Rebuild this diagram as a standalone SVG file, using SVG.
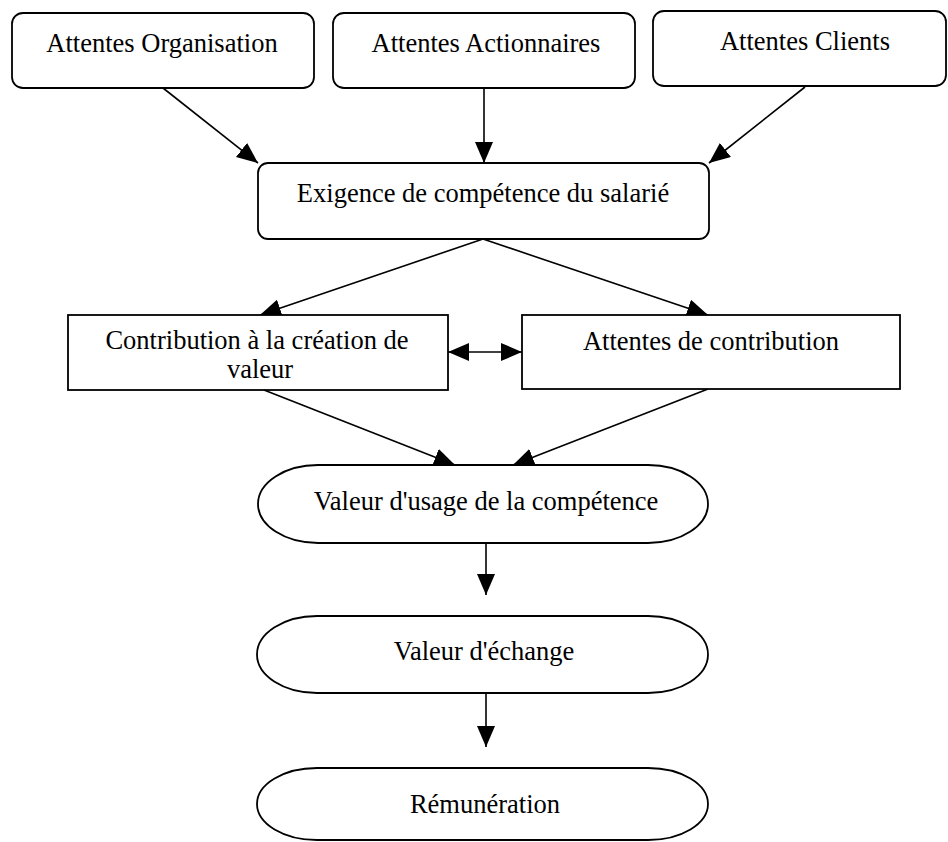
<svg xmlns="http://www.w3.org/2000/svg" width="948" height="842" viewBox="0 0 948 842">
  <style>
    .box { fill: #ffffff; stroke: #000000; stroke-width: 1.8; }
    .lbl { font-family: "Liberation Serif", "Times New Roman", serif; font-size: 26.5px; fill: #000000; text-anchor: middle; }
    .edge { fill: none; stroke: #000000; stroke-width: 1.6; }
  </style>
  <defs>
    <marker id="head" markerUnits="userSpaceOnUse" markerWidth="24" markerHeight="20" refX="21" refY="9" orient="auto-start-reverse">
      <path d="M0,0 L21,9 L0,18 Z" fill="#000000"/>
    </marker>
  </defs>

  <rect width="948" height="842" fill="#ffffff"/>

  <!-- connectors -->
  <g id="connectors">
    <line class="edge" x1="163" y1="88" x2="258" y2="163" marker-end="url(#head)"/>
    <line class="edge" x1="484" y1="88" x2="484" y2="163" marker-end="url(#head)"/>
    <line class="edge" x1="805" y1="87" x2="709" y2="163" marker-end="url(#head)"/>
    <line class="edge" x1="483" y1="239" x2="260" y2="315" marker-end="url(#head)"/>
    <line class="edge" x1="483" y1="239" x2="708" y2="315" marker-end="url(#head)"/>
    <line class="edge" x1="448" y1="352" x2="522" y2="352" marker-start="url(#head)" marker-end="url(#head)"/>
    <line class="edge" x1="264" y1="390" x2="455" y2="465" marker-end="url(#head)"/>
    <line class="edge" x1="708" y1="389" x2="513" y2="465" marker-end="url(#head)"/>
    <line class="edge" x1="486" y1="543" x2="486" y2="595" marker-end="url(#head)"/>
    <line class="edge" x1="486" y1="693" x2="486" y2="747" marker-end="url(#head)"/>
  </g>

  <!-- top row: expectations -->
  <g id="attentes-organisation">
    <rect class="box" x="12" y="13" width="302" height="75" rx="11"/>
    <text class="lbl" x="162" y="52">Attentes Organisation</text>
  </g>
  <g id="attentes-actionnaires">
    <rect class="box" x="333" y="13" width="302" height="75" rx="11"/>
    <text class="lbl" x="486" y="52">Attentes Actionnaires</text>
  </g>
  <g id="attentes-clients">
    <rect class="box" x="653" y="11" width="293" height="75" rx="11"/>
    <text class="lbl" x="805" y="50">Attentes Clients</text>
  </g>

  <!-- competence requirement -->
  <g id="exigence">
    <rect class="box" x="258" y="163" width="451" height="76" rx="10"/>
    <text class="lbl" x="483" y="202">Exigence de compétence du salarié</text>
  </g>

  <!-- middle row -->
  <g id="contribution">
    <rect class="box" x="68" y="315" width="380" height="75"/>
    <text class="lbl" x="257" y="349">Contribution à la création de</text>
    <text class="lbl" x="260" y="378">valeur</text>
  </g>
  <g id="attentes-contribution">
    <rect class="box" x="522" y="315" width="378" height="74"/>
    <text class="lbl" x="711" y="350">Attentes de contribution</text>
  </g>

  <!-- value chain -->
  <g id="valeur-usage">
    <path class="box" d="M318,465 H648 A60,39 0 0 1 648,543 H318 A60,39 0 0 1 318,465 Z"/>
    <text class="lbl" x="486" y="510">Valeur d'usage de la compétence</text>
  </g>
  <g id="valeur-echange">
    <path class="box" d="M317,616 H648 A60,38.5 0 0 1 648,693 H317 A60,38.5 0 0 1 317,616 Z"/>
    <text class="lbl" x="484" y="660">Valeur d'échange</text>
  </g>
  <g id="remuneration">
    <path class="box" d="M317,768 H648 A60,36 0 0 1 648,840 H317 A60,36 0 0 1 317,768 Z"/>
    <text class="lbl" x="485" y="813">Rémunération</text>
  </g>
</svg>
